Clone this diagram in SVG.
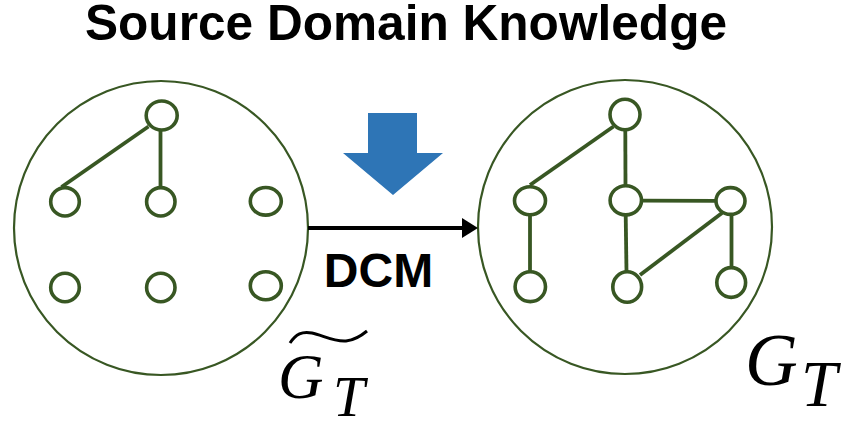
<svg xmlns="http://www.w3.org/2000/svg" width="846" height="422" viewBox="0 0 846 422">
  <defs>
    <style>
      .big{fill:none;stroke:#385723;stroke-width:2.2}
      .nd{fill:#fff;stroke:#385723;stroke-width:3.6}
      .ed{stroke:#385723;stroke-width:3.8;fill:none;stroke-linecap:butt}
      .title{font-family:"Liberation Sans",Arial,sans-serif;font-weight:bold;fill:#000}
      .math{font-family:"Liberation Serif","Times New Roman",serif;font-style:italic;fill:#000}
    </style>
    <marker id="ah" markerWidth="5" markerHeight="5.2" refX="0" refY="2.6" orient="auto" markerUnits="strokeWidth">
      <path d="M0,0 L4.2,2.6 L0,5.2 Z" fill="#000"/>
    </marker>
  </defs>
  <rect width="846" height="422" fill="#fff"/>

  <text class="title" x="406" y="40" font-size="49.6" text-anchor="middle">Source Domain Knowledge</text>

  <g id="source-arrow">
    <polygon points="368,113 417,113 417,153 443,153 393,195 343,153 368,153" fill="#2E75B6"/>
  </g>

  <g id="graph-tilde">
    <circle class="big" cx="161" cy="228" r="147"/>
  </g>
  <g id="graph-target">
    <circle class="big" cx="625" cy="227" r="147"/>
  </g>

  <g id="connectors">
    <line x1="308" y1="228" x2="462" y2="228" stroke="#000" stroke-width="3.8" marker-end="url(#ah)"/>
    <line class="ed" x1="148.5" y1="126.5" x2="61.5" y2="187"/>
    <line class="ed" x1="160.5" y1="131" x2="160.5" y2="187"/>
    <line class="ed" x1="613.5" y1="126.5" x2="530" y2="185"/>
    <line class="ed" x1="625.3" y1="130" x2="625.5" y2="186"/>
    <line class="ed" x1="641.5" y1="200.7" x2="716" y2="200.9"/>
    <line class="ed" x1="625.7" y1="215" x2="626.5" y2="272"/>
    <line class="ed" x1="530" y1="215" x2="530" y2="272"/>
    <line class="ed" x1="731.5" y1="214" x2="731.5" y2="268"/>
    <line class="ed" x1="722" y1="213" x2="640" y2="275"/>
  </g>

  <g id="left-nodes">
    <g id="l-top"><ellipse class="nd" cx="161.7" cy="115.5" rx="15.5" ry="14.5"/></g>
    <g id="l-m1"><ellipse class="nd" cx="65" cy="201.8" rx="14.3" ry="14.2"/></g>
    <g id="l-m2"><ellipse class="nd" cx="160.8" cy="201.8" rx="14.2" ry="14.2"/></g>
    <g id="l-m3"><ellipse class="nd" cx="265.8" cy="201.3" rx="15.5" ry="13.8"/></g>
    <g id="l-b1"><ellipse class="nd" cx="65" cy="287.5" rx="14.3" ry="14.2"/></g>
    <g id="l-b2"><ellipse class="nd" cx="160.8" cy="287.5" rx="14.2" ry="14.2"/></g>
    <g id="l-b3"><ellipse class="nd" cx="265.8" cy="285.8" rx="15.5" ry="14"/></g>
  </g>

  <g id="right-nodes">
    <g id="r-top"><ellipse class="nd" cx="625" cy="114.5" rx="15" ry="15.3"/></g>
    <g id="r-m1"><ellipse class="nd" cx="530" cy="200.8" rx="15.5" ry="14"/></g>
    <g id="r-m2"><ellipse class="nd" cx="625.8" cy="200.3" rx="15.7" ry="14.6"/></g>
    <g id="r-m3"><ellipse class="nd" cx="730.5" cy="201" rx="14.5" ry="13.4"/></g>
    <g id="r-b1"><ellipse class="nd" cx="530.3" cy="286.7" rx="15.2" ry="14.9"/></g>
    <g id="r-b2"><ellipse class="nd" cx="627.2" cy="287" rx="14.4" ry="15.2"/></g>
    <g id="r-b3"><ellipse class="nd" cx="731.2" cy="282.5" rx="14.4" ry="14.9"/></g>
  </g>

  <text class="title" x="378.5" y="287" font-size="48" text-anchor="middle">DCM</text>

  <g id="label-tilde">
    <path d="M290,343 C296,334 302,331 312,333 C322,335 334,342 346,341 C355,340 361,336 367,331" fill="none" stroke="#000" stroke-width="3"/>
    <text class="math" x="278" y="398" font-size="63">G</text>
    <text class="math" x="333" y="416" font-size="57">T</text>
  </g>
  <g id="label-target">
    <text class="math" x="745" y="385" font-size="73">G</text>
    <text class="math" x="801" y="406" font-size="65">T</text>
  </g>
</svg>
